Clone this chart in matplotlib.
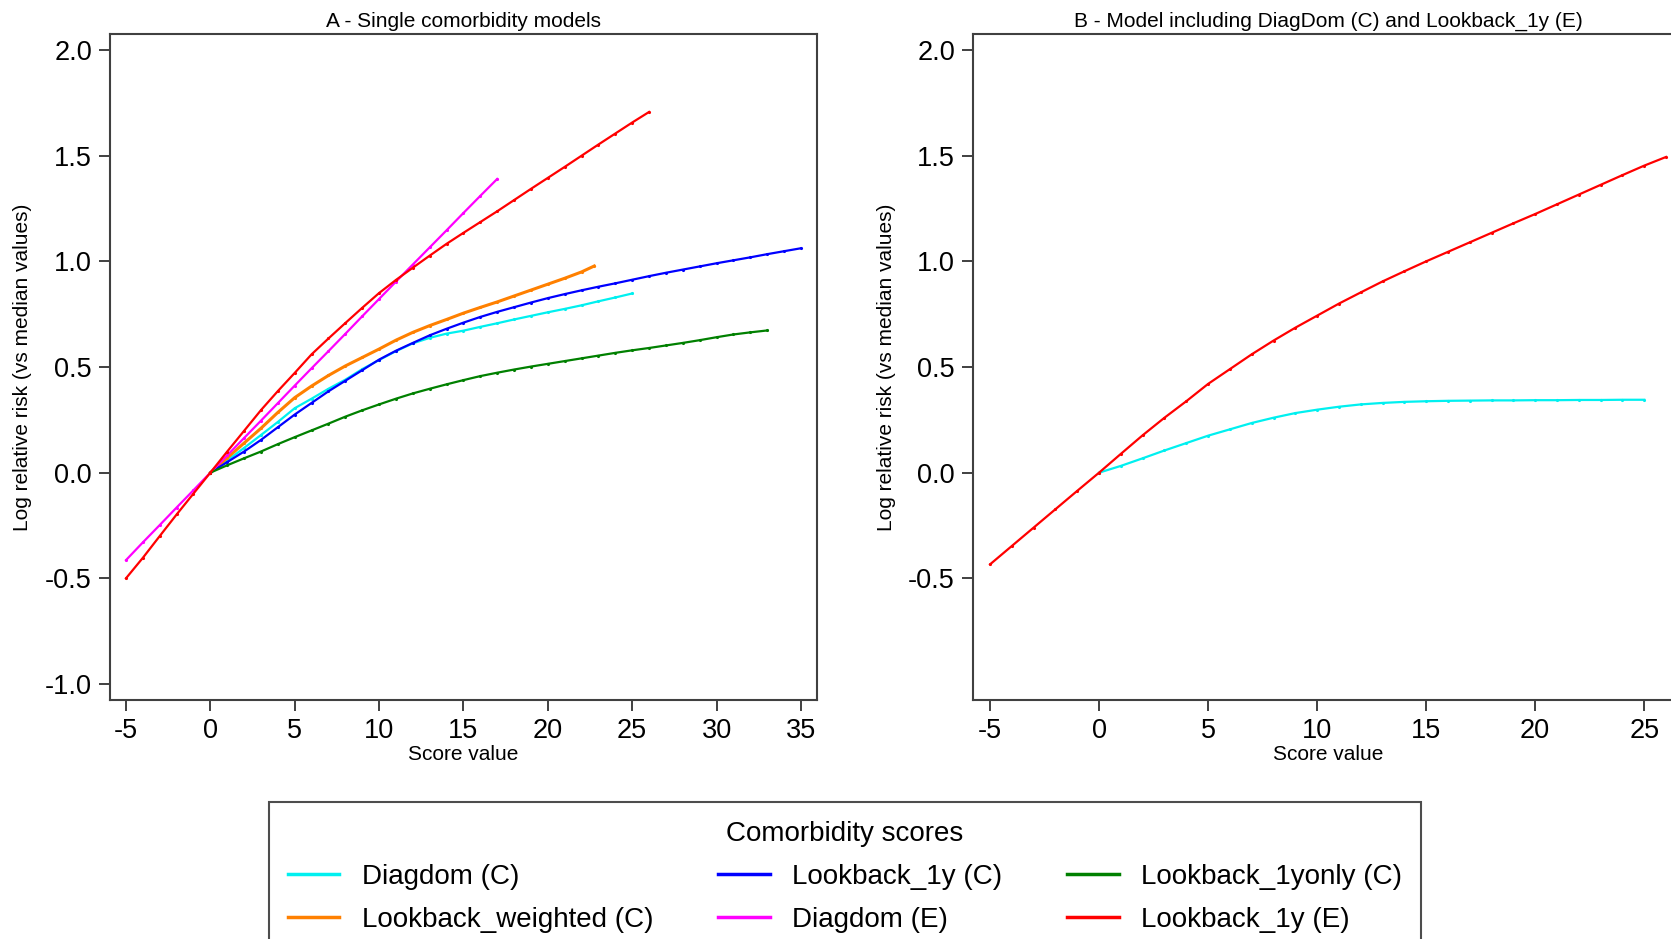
import matplotlib
matplotlib.use("Agg")
import matplotlib.pyplot as plt
import numpy as np

plt.rcParams['font.family'] = ['Liberation Sans', 'DejaVu Sans']

# --- panel A: single comorbidity models ---
x_diagdom_c = list(range(0, 26))
y_diagdom_c = [0, 0.058, 0.117, 0.178, 0.24, 0.305, 0.35, 0.397, 0.44, 0.49,
               0.533, 0.575, 0.612, 0.638, 0.658, 0.672, 0.69, 0.707, 0.725, 0.742,
               0.759, 0.775, 0.792, 0.811, 0.829, 0.848]

x_lb1y_c = list(range(0, 36))
y_lb1y_c = [0, 0.05, 0.10, 0.155, 0.215, 0.275, 0.33, 0.385, 0.435, 0.485,
            0.535, 0.577, 0.614, 0.65, 0.681, 0.71, 0.737, 0.761, 0.783, 0.805,
            0.826, 0.845, 0.863, 0.88, 0.896, 0.913, 0.93, 0.946, 0.961, 0.976,
            0.991, 1.005, 1.019, 1.034, 1.048, 1.062]

x_lb1yonly_c = list(range(0, 34))
y_lb1yonly_c = [0, 0.035, 0.068, 0.10, 0.135, 0.168, 0.2, 0.232, 0.265, 0.295,
                0.323, 0.35, 0.375, 0.397, 0.418, 0.438, 0.457, 0.473, 0.488, 0.502,
                0.515, 0.528, 0.541, 0.554, 0.567, 0.579, 0.59, 0.602, 0.614, 0.627,
                0.641, 0.654, 0.664, 0.673]

x_lbweighted_c = list(range(0, 23)) + [22.75]
y_lbweighted_c = [0, 0.07, 0.14, 0.21, 0.285, 0.355, 0.41, 0.46, 0.505, 0.545,
                  0.585, 0.627, 0.664, 0.696, 0.725, 0.755, 0.782, 0.808, 0.836, 0.864,
                  0.892, 0.92, 0.95, 0.978]

x_diagdom_e = list(range(-5, 18))
y_diagdom_e = [-0.414, -0.33, -0.248, -0.165, -0.083, 0, 0.082, 0.164, 0.246, 0.329,
               0.412, 0.494, 0.575, 0.657, 0.74, 0.822, 0.904, 0.985, 1.066, 1.147,
               1.229, 1.31, 1.39]

x_lb1y_e = list(range(-5, 27))
y_lb1y_e = [-0.50, -0.403, -0.30, -0.198, -0.099, 0, 0.10, 0.198, 0.296, 0.386,
            0.472, 0.56, 0.635, 0.708, 0.78, 0.85, 0.912, 0.97, 1.027, 1.083,
            1.135, 1.186, 1.237, 1.29, 1.343, 1.395, 1.447, 1.50, 1.553, 1.605,
            1.657, 1.707]

# --- panel B: joint model ---
xb_diagdom_c = list(range(0, 26))
yb_diagdom_c = [0, 0.032, 0.068, 0.105, 0.14, 0.175, 0.205, 0.235, 0.26, 0.282,
                0.298, 0.312, 0.323, 0.33, 0.335, 0.338, 0.34, 0.341, 0.342, 0.342,
                0.343, 0.343, 0.344, 0.344, 0.345, 0.345]

xb_lb1y_e = list(range(-5, 27))
yb_lb1y_e = [-0.434, -0.347, -0.26, -0.173, -0.086, 0, 0.089, 0.177, 0.26, 0.338,
             0.42, 0.49, 0.56, 0.625, 0.686, 0.743, 0.80, 0.853, 0.905, 0.953,
             1.0, 1.045, 1.09, 1.135, 1.18, 1.224, 1.27, 1.316, 1.362, 1.408,
             1.453, 1.494]

yticks_a = [-1.0, -0.5, 0.0, 0.5, 1.0, 1.5, 2.0]
yticks_b = [-0.5, 0.0, 0.5, 1.0, 1.5, 2.0]
xticks_a = [-5, 0, 5, 10, 15, 20, 25, 30, 35]
xticks_b = [-5, 0, 5, 10, 15, 20, 25]

col = {'cyan': '#00f0f0', 'blue': '#0000ff', 'green': '#008000',
       'orange': '#ff8000', 'magenta': '#ff00ff', 'red': '#ff0000'}
axcol = '#404040'

fig = plt.figure(figsize=(16.71, 9.39), dpi=100)
axA = fig.add_axes([0.0658, 0.2545, 0.4231, 0.7093])
axB = fig.add_axes([0.5823, 0.2545, 0.4249, 0.7093])


def line(ax, x, y, c, lw=1.6, label=None):
    ax.plot(x, y, color=c, lw=lw, marker='.', ms=2.5, label=label)


line(axA, x_diagdom_c, y_diagdom_c, col['cyan'], label='Diagdom (C)')
line(axA, x_lbweighted_c, y_lbweighted_c, col['orange'], lw=2.2, label='Lookback_weighted (C)')
line(axA, x_lb1y_c, y_lb1y_c, col['blue'], label='Lookback_1y (C)')
line(axA, x_diagdom_e, y_diagdom_e, col['magenta'], label='Diagdom (E)')
line(axA, x_lb1yonly_c, y_lb1yonly_c, col['green'], label='Lookback_1yonly (C)')
line(axA, x_lb1y_e, y_lb1y_e, col['red'], label='Lookback_1y (E)')

line(axB, xb_diagdom_c, yb_diagdom_c, col['cyan'])
line(axB, xb_lb1y_e, yb_lb1y_e, col['red'])

for ax, xt, yt, xl in [(axA, xticks_a, yticks_a, (-5.95, 35.95)),
                       (axB, xticks_b, yticks_b, (-5.78, 26.78))]:
    ax.set_xlim(*xl)
    ax.set_ylim(-1.076, 2.076)
    ax.set_xticks(xt)
    ax.set_xticklabels([str(v) for v in xt])
    ax.set_yticks(yt)
    ax.set_yticklabels(['%.1f' % v for v in yt])
    for s in ax.spines.values():
        s.set_color(axcol)
        s.set_linewidth(1.5)
    ax.tick_params(direction='out', length=8, width=1.4, color=axcol,
                   labelsize=19.5, pad=5)
    ax.set_xlabel('Score value', fontsize=15, labelpad=1)
    ax.set_ylabel('Log relative risk (vs median values)', fontsize=15, labelpad=9)

axA.set_title('A - Single comorbidity models', fontsize=15, pad=5)
axB.set_title('B - Model including DiagDom (C) and Lookback_1y (E)', fontsize=15, pad=5)

# legend, filled column-wise so rows read like the original
h, l = axA.get_legend_handles_labels()
leg = fig.legend(h, l, ncol=3,
                 loc='upper center', bbox_to_anchor=(0.5057, 0.1459),
                 borderaxespad=0,
                 title='Comorbidity scores', title_fontsize=20, fontsize=20,
                 frameon=True, fancybox=False, edgecolor='#202020',
                 handlelength=1.85, handletextpad=0.8, columnspacing=2.35,
                 labelspacing=0.6, borderpad=0.7)
leg.get_frame().set_linewidth(1.5)
for lh in leg.legend_handles:
    lh.set_marker('')
    lh.set_linewidth(2.5)

fig.savefig('out.png', dpi=100)
